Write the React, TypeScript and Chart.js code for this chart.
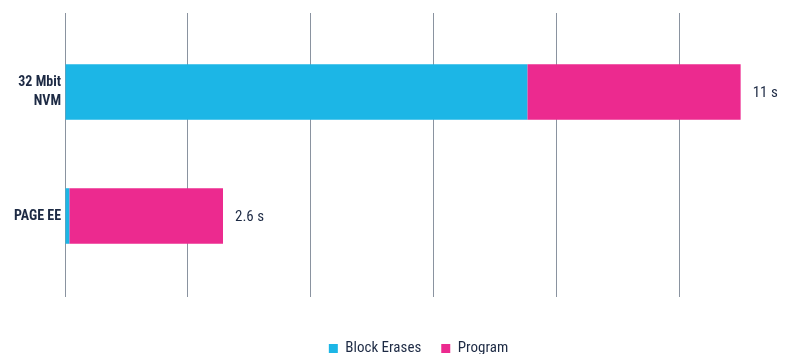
import { useEffect, useRef } from "react";
import { Chart, registerables } from "chart.js";

Chart.register(...registerables);

const categories: (string | string[])[] = [["32 Mbit", "NVM"], "PAGE EE"];
const blockErases = [7.52, 0.07];
const program = [3.47, 2.5];
const totalLabels = ["11 s", "2.6 s"];
const seriesNames = ["Block Erases", "Program"];
const gridStep = 2;
const xMax = 11.5;

const FONT = '"Liberation Sans Narrow", "Roboto Condensed", "DejaVu Sans Condensed", Roboto, sans-serif';
const TEXT = "#1d2a44";
const GRID = "#8a93a0";
const CYAN = "#1cb6e6";
const MAGENTA = "#ec2a8f";

const valueLabels = {
  id: "valueLabels",
  afterDatasetsDraw(chart: any) {
    const ctx = chart.ctx;
    const meta = chart.getDatasetMeta(chart.data.datasets.length - 1);
    ctx.save();
    ctx.font = `15px ${FONT}`;
    ctx.fillStyle = TEXT;
    ctx.textAlign = "left";
    ctx.textBaseline = "middle";
    meta.data.forEach((bar: any, i: number) => {
      ctx.fillText(totalLabels[i], bar.x + 12, bar.y + 1);
    });
    ctx.restore();
  },
};

const keepGridSteps = (scale: any) => {
  scale.ticks = scale.ticks.filter((t: any) => Math.abs(t.value % gridStep) < 1e-9);
};

export default function App() {
  const ref = useRef<HTMLCanvasElement>(null);
  useEffect(() => {
    if (!ref.current) return;
    const chart = new Chart(ref.current, {
      type: "bar",
      data: {
        labels: categories as any,
        datasets: [
          {
            label: seriesNames[0],
            data: blockErases,
            backgroundColor: CYAN,
            borderWidth: 0,
            categoryPercentage: 1,
            barPercentage: 0.448,
          },
          {
            label: seriesNames[1],
            data: program,
            backgroundColor: MAGENTA,
            borderWidth: 0,
            categoryPercentage: 1,
            barPercentage: 0.448,
          },
        ],
      },
      options: {
        indexAxis: "y",
        animation: false,
        responsive: false,
        devicePixelRatio: 1,
        layout: { padding: { top: 13, right: 18, left: 0, bottom: 0 } },
        plugins: {
          tooltip: { enabled: false },
          legend: {
            position: "bottom",
            fullSize: false,
            labels: {
              boxWidth: 9,
              boxHeight: 9,
              padding: 20,
              color: TEXT,
              font: { size: 15, family: FONT },
            },
          },
        },
        scales: {
          x: {
            type: "linear",
            stacked: true,
            min: 0,
            max: xMax,
            position: "bottom",
            ticks: { display: false, stepSize: gridStep },
            grid: { color: GRID, lineWidth: 1, drawTicks: true, tickLength: 19 },
            border: { display: false },
            afterBuildTicks: keepGridSteps,
            afterFit: (s: any) => {
              s.height = 43;
            },
          },
          x2: {
            type: "linear",
            min: 0,
            max: xMax,
            position: "top",
            ticks: { display: false, stepSize: gridStep },
            grid: { color: GRID, lineWidth: 1, drawOnChartArea: false, drawTicks: true, tickLength: 17 },
            border: { display: false },
            afterBuildTicks: keepGridSteps,
            afterFit: (s: any) => {
              s.height = 17;
            },
          },
          y: {
            stacked: true,
            grid: { display: false, drawTicks: false },
            border: { display: false },
            ticks: {
              color: TEXT,
              padding: 4,
              font: { size: 14, weight: "bold", family: FONT, lineHeight: 1.3 },
            },
            afterFit: (s: any) => {
              s.width = 65;
            },
          },
        },
      } as any,
      plugins: [valueLabels],
    });
    return () => chart.destroy();
  }, []);
  return (
    <div
      style={{
        position: "fixed",
        left: 0,
        top: 0,
        width: 790,
        height: 354,
        overflow: "hidden",
        background: "#fff",
      }}
    >
      <canvas ref={ref} width={790} height={366} style={{ display: "block" }} />
    </div>
  );
}
